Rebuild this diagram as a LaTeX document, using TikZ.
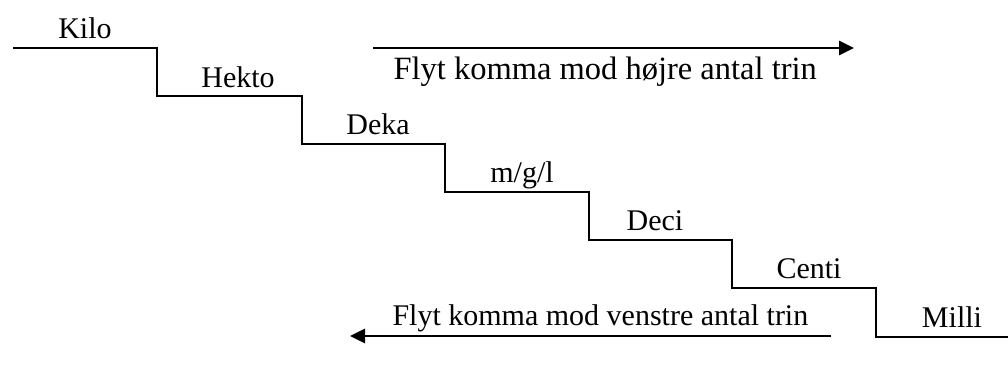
\documentclass[tikz,border=0pt]{standalone}
\usepackage{fontspec}
\setmainfont{Liberation Serif}
\usetikzlibrary{arrows.meta}
\begin{document}
\begin{tikzpicture}[x=0.4pt,y=-0.4pt,
  stair/.style={line width=0.8pt, line join=miter},
  lbl/.style={anchor=base, inner sep=0pt, font=\fontsize{12}{14}\selectfont},
  movearrow/.style={line width=1.1pt, -{Triangle[length=6pt,width=5.6pt]}}]
\useasboundingbox (0,0) rectangle (1008,376);
% staircase
\draw[stair] (13,48) -- (157,48) -- (157,96) -- (302,96) -- (302,144) -- (445,144)
  -- (445,192) -- (589,192) -- (589,240) -- (732,240) -- (732,288) -- (876,288)
  -- (876,337) -- (1008,337);
% step labels
\node[lbl] (kilo)  at (85,38)  {Kilo};
\node[lbl] (hekto) at (238,87) {Hekto};
\node[lbl] (deka)  at (378,134) {Deka};
\node[lbl] (mgl)   at (522,182) {m/g/l};
\node[lbl] (deci)  at (655,230) {Deci};
\node[lbl] (centi) at (809,278) {Centi};
\node[lbl] (milli) at (952,327) {Milli};
% arrows
\coordinate (r1) at (373,48);
\coordinate (r2) at (854,48);
\draw[movearrow] (r1) -- (r2);
\node[lbl, anchor=base west, font=\fontsize{13}{15}\selectfont] (rtxt) at (393,79) {Flyt komma mod højre antal trin};
\coordinate (l1) at (831,336);
\coordinate (l2) at (350,336);
\draw[movearrow] (l1) -- (l2);
\node[lbl, anchor=base west] (ltxt) at (392,325) {Flyt komma mod venstre antal trin};
\end{tikzpicture}
\end{document}
